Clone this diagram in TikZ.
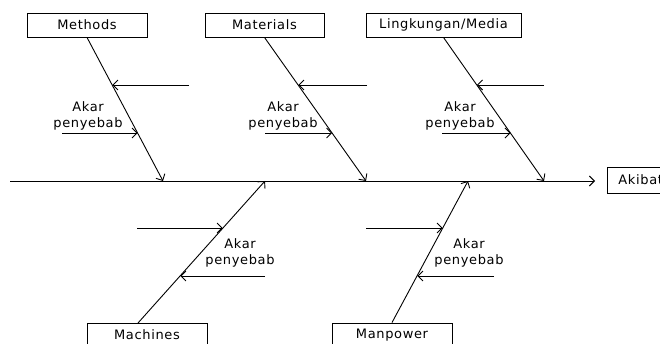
\documentclass[tikz,border=0pt]{standalone}
\usepackage{fontspec}
\setmainfont{DejaVu Sans}[LetterSpace=5]
\usetikzlibrary{arrows.meta,calc}
\begin{document}
\begin{tikzpicture}[x=1pt,y=-1pt,line width=0.9pt,
  catbox/.style={draw,minimum width=120pt,minimum height=24pt,inner sep=0pt,font=\fontsize{13}{15}\selectfont},
  lbl/.style={align=center,font=\fontsize{13}{16}\selectfont,inner sep=0pt},
  arr/.style={-{Straight Barb[length=5pt,width=10pt]}}]
\useasboundingbox (0,0) rectangle (660,344);
\clip (0,0) rectangle (660,344);
% category boxes
\node[catbox] (meth) at (87,25) {Methods};
\node[catbox,minimum width=119pt] (mat) at (264.5,25) {Materials};
\node[catbox,minimum width=155pt] (ling) at (443.5,25) {Lingkungan/Media};
\node[catbox] (mach) at (147,335) {Machines};
\node[catbox] (man) at (392,335) {Manpower};
\node[catbox,minimum width=0pt,minimum height=26pt,inner xsep=11pt,anchor=west] (akb) at (607,180) {Akibat};
% spine
\coordinate (tail) at (10,181);
\draw[arr,shorten >=12pt] (tail) -- (tail -| akb.west);
% bone ends on spine
\coordinate (s1) at (163,181);
\coordinate (s2) at (366,181);
\coordinate (s3) at (544,181);
\coordinate (s4) at (265,181);
\coordinate (s5) at (468,181);
\coordinate (machfoot) at (138,323);
% bones
\draw[arr] (meth.south) -- (s1);
\draw[arr] (mat.south) -- (s2);
\draw[arr] (ling.south) -- (s3);
\draw[arr] (machfoot) -- (s4);
\draw[arr] (man.north) -- (s5);
% cause points on bones
\coordinate (b1a) at ($(meth.south)!0.333!(s1)$);
\coordinate (b1b) at ($(meth.south)!0.667!(s1)$);
\coordinate (b2a) at ($(mat.south)!0.333!(s2)$);
\coordinate (b2b) at ($(mat.south)!0.667!(s2)$);
\coordinate (b3a) at ($(ling.south)!0.333!(s3)$);
\coordinate (b3b) at ($(ling.south)!0.667!(s3)$);
\coordinate (b4a) at ($(machfoot)!0.667!(s4)$);
\coordinate (b4b) at ($(machfoot)!0.333!(s4)$);
\coordinate (b5a) at ($(man.north)!0.667!(s5)$);
\coordinate (b5b) at ($(man.north)!0.333!(s5)$);
% cause tails
\coordinate (c1a) at (189,85);  \coordinate (c1b) at (62,133);
\coordinate (c2a) at (367,85);  \coordinate (c2b) at (265,133);
\coordinate (c3a) at (544,85);  \coordinate (c3b) at (442,133);
\coordinate (c4a) at (137,228); \coordinate (c4b) at (265,276);
\coordinate (c5a) at (366,228); \coordinate (c5b) at (494,276);
% cause arrows
\draw[arr] (c1a) -- (c1a -| b1a);
\draw[arr] (c1b) -- (c1b -| b1b);
\draw[arr] (c2a) -- (c2a -| b2a);
\draw[arr] (c2b) -- (c2b -| b2b);
\draw[arr] (c3a) -- (c3a -| b3a);
\draw[arr] (c3b) -- (c3b -| b3b);
\draw[arr] (c4a) -- (c4a -| b4a);
\draw[arr] (c4b) -- (c4b -| b4b);
\draw[arr] (c5a) -- (c5a -| b5a);
\draw[arr] (c5b) -- (c5b -| b5b);
% labels
\node[lbl] (l1) at (88,116) {Akar\\penyebab};
\node[lbl] (l2) at (283,116) {Akar\\penyebab};
\node[lbl] (l3) at (460,116) {Akar\\penyebab};
\node[lbl] (l4) at (240,253) {Akar\\penyebab};
\node[lbl] (l5) at (469,253) {Akar\\penyebab};
\end{tikzpicture}
\end{document}
